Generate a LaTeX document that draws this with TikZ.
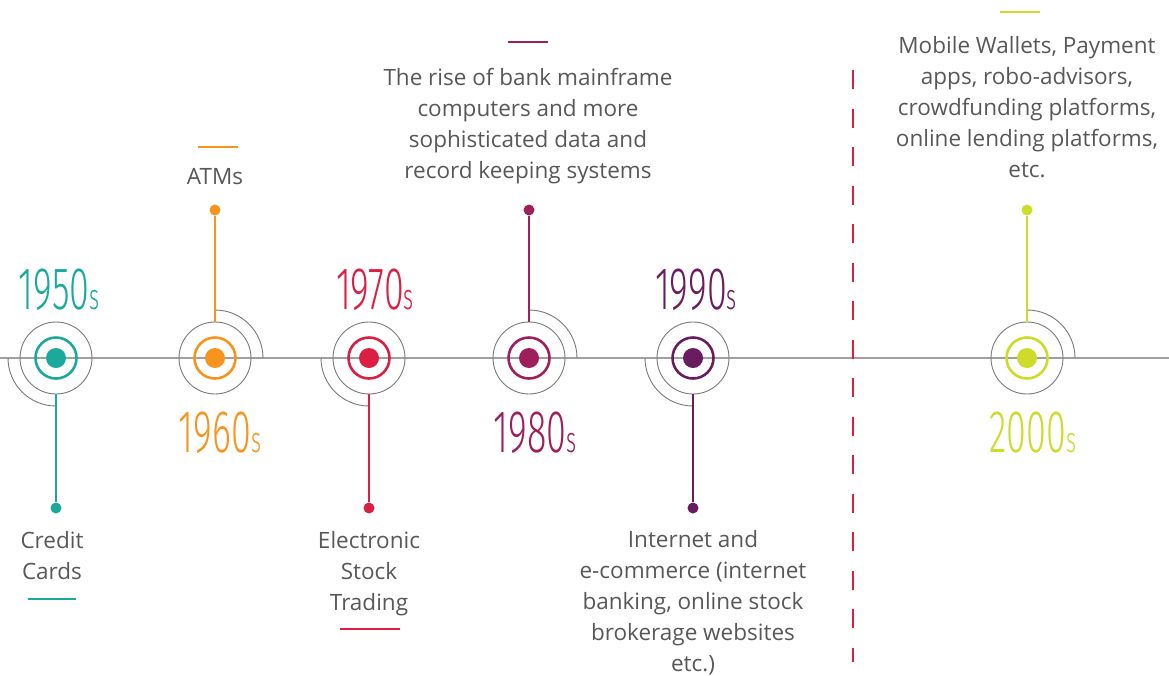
\documentclass[tikz,border=0pt]{standalone}
\usepackage{fontspec}
\usepackage{graphicx}
\setmainfont{Open Sans}
\newfontfamily\decfont{Fira Sans Light}
\definecolor{cteal}{HTML}{1BA99B}
\definecolor{corange}{HTML}{F7941E}
\definecolor{cred}{HTML}{DB1F43}
\definecolor{cberry}{HTML}{9E1F5A}
\definecolor{cplum}{HTML}{6A1D5E}
\definecolor{clime}{HTML}{CDDB2A}
\definecolor{axisgrey}{HTML}{A0A0A0}
\definecolor{halogrey}{HTML}{7A7A7A}
\definecolor{txtgrey}{HTML}{585858}
\newcommand{\decade}[1]{\scalebox{0.6}[1]{\decfont\fontsize{60}{60}\selectfont #1\fontsize{36}{36}\selectfont s}}
\begin{document}
\begin{tikzpicture}[x=1pt,y=-1pt,
  axis/.style={draw=axisgrey,line width=1.5pt},
  halo/.style={circle,draw=halogrey,line width=0.9pt,minimum size=72pt,inner sep=0pt},
  halowing/.style={draw=halogrey,line width=0.9pt},
  ring/.style={circle,draw=#1,line width=2.6pt,minimum size=41pt,inner sep=0pt},
  core/.style={circle,fill=#1,minimum size=20pt,inner sep=0pt},
  pin/.style={circle,fill=#1,minimum size=11pt,inner sep=0pt},
  stem/.style={draw=#1,line width=1.2pt},
  bar/.style={rectangle,fill=#1,minimum height=2.2pt,inner sep=0pt},
  note/.style={text=txtgrey,align=center,inner sep=0pt,font=\fontsize{22.5}{31}\selectfont},
  yearlabel/.style={text=#1,inner sep=0pt,anchor=base},
  divider/.style={draw=cred,line width=2pt,dash pattern=on 19pt off 19.5pt}
]
\useasboundingbox (0,0) rectangle (1169,675);

% timeline axis and era divider
\coordinate (axisL) at (0,358);
\coordinate (axisR) at (1169,358);
\draw[axis] (axisL) -- (axisR);
\coordinate (divtop) at (853,70);
\coordinate (divbot) at (853,662);
\draw[divider] (divtop) -- (divbot);

% 1950s
\node[halo] (h50) at (56,358) {};
\draw[halowing] (8,358) arc[start angle=180,end angle=90,radius=48];
\node[ring=cteal] (r50) at (56,358) {};
\node[core=cteal] (c50) at (56,358) {};
\node[pin=cteal] (p50) at (56,508) {};
\draw[stem=cteal] (h50.south) -- (p50);
\node[yearlabel=cteal] (y50) at (59,309) {\decade{1950}};
\node[note] (t50) at (52,556) {Credit\\Cards};
\node[bar=cteal,minimum width=48pt] (b50) at (52,599) {};

% 1960s
\node[halo] (h60) at (215,358) {};
\draw[halowing] (215,310) arc[start angle=-90,end angle=0,radius=48];
\node[ring=corange] (r60) at (215,358) {};
\node[core=corange] (c60) at (215,358) {};
\node[pin=corange] (p60) at (215,210) {};
\draw[stem=corange] (h60.north) -- (p60);
\node[yearlabel=corange] (y60) at (220,452) {\decade{1960}};
\node[note] (t60) at (215,177) {ATMs};
\node[bar=corange,minimum width=40pt] (b60) at (218,147) {};

% 1970s
\node[halo] (h70) at (369,358) {};
\draw[halowing] (321,358) arc[start angle=180,end angle=90,radius=48];
\node[ring=cred] (r70) at (369,358) {};
\node[core=cred] (c70) at (369,358) {};
\node[pin=cred] (p70) at (369,508) {};
\draw[stem=cred] (h70.south) -- (p70);
\node[yearlabel=cred] (y70) at (375,309) {\decade{1970}};
\node[note] (t70) at (369,574) {Electronic\\Stock\\Trading};
\node[bar=cred,minimum width=60pt] (b70) at (370,629) {};

% 1980s
\node[halo] (h80) at (529,358) {};
\draw[halowing] (529,310) arc[start angle=-90,end angle=0,radius=48];
\node[ring=cberry] (r80) at (529,358) {};
\node[core=cberry] (c80) at (529,358) {};
\node[pin=cberry] (p80) at (529,210) {};
\draw[stem=cberry] (h80.north) -- (p80);
\node[yearlabel=cberry] (y80) at (535,452) {\decade{1980}};
\node[note] (t80) at (528,126) {The rise of bank mainframe\\computers and more\\sophisticated data and\\record keeping systems};
\node[bar=cberry,minimum width=40pt] (b80) at (528,42) {};

% 1990s
\node[halo] (h90) at (693,358) {};
\draw[halowing] (645,358) arc[start angle=180,end angle=90,radius=48];
\node[ring=cplum] (r90) at (693,358) {};
\node[core=cplum] (c90) at (693,358) {};
\node[pin=cplum] (p90) at (693,508) {};
\draw[stem=cplum] (h90.south) -- (p90);
\node[yearlabel=cplum] (y90) at (696,309) {\decade{1990}};
\node[note] (t90) at (693,603) {Internet and\\e-commerce (internet\\banking, online stock\\brokerage websites\\etc.)};

% 2000s
\node[halo] (h00) at (1027,358) {};
\draw[halowing] (1027,310) arc[start angle=-90,end angle=0,radius=48];
\node[ring=clime] (r00) at (1027,358) {};
\node[core=clime] (c00) at (1027,358) {};
\node[pin=clime] (p00) at (1027,210) {};
\draw[stem=clime] (h00.north) -- (p00);
\node[yearlabel=clime] (y00) at (1033,452) {\decade{2000}};
\node[note] (t00) at (1027,107) {Mobile Wallets, Payment\\apps, robo-advisors,\\crowdfunding platforms,\\online lending platforms,\\etc.};
\node[bar=clime,minimum width=40pt] (b00) at (1020,12) {};
\end{tikzpicture}
\end{document}
